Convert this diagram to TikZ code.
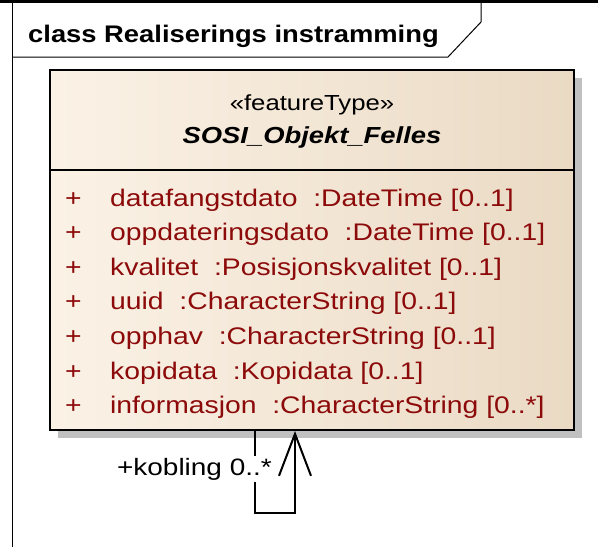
\documentclass[tikz,border=0pt]{standalone}
\usepackage{fontspec}
\setmainfont{Liberation Sans}
\newfontfamily\umlfont[FakeStretch=1.18]{Liberation Sans}
\newfontfamily\titlefont[FakeStretch=1.14]{Liberation Sans}
\usetikzlibrary{calc,shadows,arrows.meta}

\definecolor{attrred}{RGB}{140,10,10}
\definecolor{boxlight}{RGB}{251,242,230}
\definecolor{boxdark}{RGB}{234,218,196}
\definecolor{shadowgray}{RGB}{192,192,192}

\begin{document}
\begin{tikzpicture}[x=1pt,y=-1pt,
	txt/.style={inner sep=0pt,font=\umlfont\fontsize{24}{28}\selectfont},
	attr/.style={txt,anchor=base west,text=attrred},
	classbox/.style={draw,line width=2pt,minimum width=524pt,minimum height=360pt,
		left color=boxlight,right color=boxdark,
		drop shadow={shadow xshift=8pt,shadow yshift=-8pt,fill=shadowgray,opacity=1}}]
	\useasboundingbox (0,0) rectangle (598,547);
	% frame and tab
	\draw[line width=3pt] (0,1.5) -- (598,1.5);
	\draw[line width=1pt] (12,547) -- (12,3);
	\draw[line width=1pt] (481,3) -- (481,22) -- (448,57) -- (12,57);
	\node[inner sep=0pt,anchor=base west,font=\titlefont\fontsize{24}{28}\bfseries] (title) at (28,42) {class Realiserings instramming};
	% the class
	\node[classbox] (obj) at (312,250) {};
	\draw[line width=2pt] (obj.west |- 0,170) -- (obj.east |- 0,170);
	\node[txt,anchor=base,font=\umlfont\fontsize{21.8}{26}\selectfont] (stereo) at (312,110) {«featureType»};
	\node[txt,anchor=base,font=\umlfont\fontsize{23.2}{27}\bfseries\itshape] (name) at (312,143) {SOSI\_Objekt\_Felles};
	\foreach \a/\t [count=\i] in {datafangstdato/DateTime [0..1],
			oppdateringsdato/DateTime [0..1],
			kvalitet/Posisjonskvalitet [0..1],
			uuid/CharacterString [0..1],
			opphav/CharacterString [0..1],
			kopidata/Kopidata [0..1],
			informasjon/CharacterString [0..*]} {
		\node[attr] (plus\i) at (65,171.4+34.6*\i) {+};
		\node[attr] (attr\i) at (110,171.4+34.6*\i) {\a\ \ :\t};
	}
	% self association
	\coordinate (loopL) at (255,513);
	\coordinate (loopR) at (295,513);
	\draw[line width=2pt,-{Straight Barb[length=42pt,width=32pt]}]
		(loopL |- obj.south) -- (loopL) -- (loopR) -- (loopR |- obj.south);
	\node[txt,anchor=base east,fill=white,inner ysep=2pt,inner xsep=1pt,font=\umlfont\fontsize{23.7}{28}\selectfont] (kobling) at (273,475) {+kobling 0..*};
\end{tikzpicture}
\end{document}
